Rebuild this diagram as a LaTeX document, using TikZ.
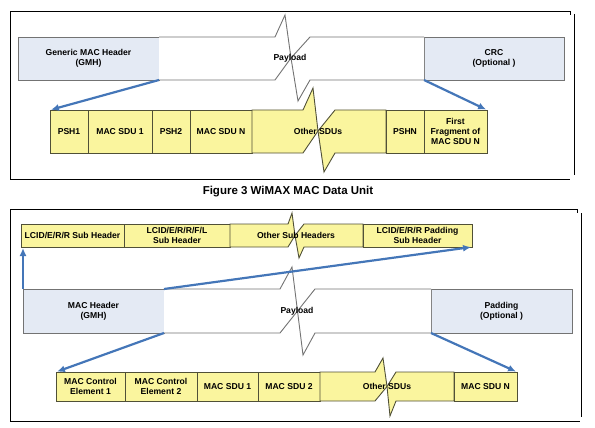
\documentclass[tikz,border=0pt]{standalone}
\usepackage{fontspec}
\setmainfont{Liberation Sans}
\usetikzlibrary{calc,arrows.meta}
\definecolor{yfill}{RGB}{250,245,158}
\definecolor{yline}{RGB}{80,80,55}
\definecolor{hfill}{RGB}{228,234,244}
\definecolor{hline}{RGB}{115,115,115}
\definecolor{arrowblue}{RGB}{68,118,184}

\begin{document}
\begin{tikzpicture}[x=1pt,y=-1pt,
	hdr/.style={draw=hline,fill=hfill,line width=0.9pt,minimum height=43,inner sep=0,outer sep=0,align=center,font=\fontsize{8.6}{10}\selectfont\bfseries},
	cell/.style={draw=yline,fill=yfill,line width=0.9pt,inner sep=0,outer sep=0,align=center,font=\fontsize{8.6}{10}\selectfont\bfseries,anchor=west},
	band/.style={draw=hline,fill=white,line width=0.9pt,line join=miter},
	zig/.style={draw=yline,fill=yfill,line width=0.9pt,line join=miter},
	frame/.style={line width=0.9pt},
	lbl/.style={inner sep=0,font=\fontsize{8.6}{10}\selectfont\bfseries},
	link/.style={->,draw=arrowblue,line width=2.2pt,shorten >=1pt}]
	\tikzset{>={Latex[length=8pt,width=7pt]}}
	\useasboundingbox (0,0) rectangle (595,428);

	% upper figure
	\draw [frame] (10,179) -- (10,11) -- (570,11) -- ++(0,4);
	\draw [frame] (574,14) -- (574,175);
	\draw [frame] (10,179) -- (570,179);

	\node [hdr, minimum width=141] (gmh) at (88.5,58.5) {Generic MAC Header\\(GMH)};
	\node [hdr, minimum width=140] (crc) at (494,58.5) {CRC\\(Optional )};
	\draw [band] (gmh.north east) -- (275,37) -- (285,15) -- (291,58) -- (275,80) -- (gmh.south east);
	\draw [band] (crc.north west) -- (310,37) -- (291,58) -- (298,101) -- (310,80) -- (crc.south west);
	\node [lbl] (pay1) at (290,58) {Payload};

	\node [cell, minimum width=38, minimum height=43] (psh1) at (50,131.5) {PSH1};
	\node [cell, minimum width=64, minimum height=43] (sdu1) at (psh1.east) {MAC SDU 1};
	\node [cell, minimum width=38, minimum height=43] (psh2) at (sdu1.east) {PSH2};
	\node [cell, minimum width=62, minimum height=43] (sdun) at (psh2.east) {MAC SDU N};
	\draw [zig] (sdun.north east) -- (303,110) -- (313,88) -- (318,131) -- (303,153) -- (sdun.south east) -- cycle;
	\draw [zig] (386,110) -- (335,110) -- (318,131) -- (324,172) -- (335,153) -- (386,153) -- cycle;
	\node [lbl] (other1) at (318,131) {Other SDUs};
	\node [cell, minimum width=38, minimum height=43] (pshn) at (386,131.5) {PSHN};
	\node [cell, minimum width=63, minimum height=43] (first) at (pshn.east) {First\\Fragment of\\MAC SDU N};

	\draw [link] (gmh.south east) -- (psh1.north west);
	\draw [link] (crc.south west) -- (first.north east);

	\node [font=\fontsize{11.5}{13}\selectfont\bfseries] (cap) at (288,192) {Figure 3 WiMAX MAC Data Unit};

	% lower figure
	\draw [frame] (10,421) -- (10,209) -- (577,209) -- ++(0,4);
	\draw [frame] (581,213) -- (581,417);
	\draw [frame] (10,421) -- (580,421);

	\node [cell, minimum width=103, minimum height=23] (lcid1) at (21,235.5) {LCID/E/R/R Sub Header};
	\node [cell, minimum width=106, minimum height=23] (lcid2) at (lcid1.east) {LCID/E/R/R/F/L\\Sub Header};
	\draw [zig] (lcid2.north east) -- (288,224) -- (292,213) -- (295,235.5) -- (288,247) -- (lcid2.south east) -- cycle;
	\draw [zig] (363,224) -- (304,224) -- (295,235.5) -- (299,258) -- (304,247) -- (363,247) -- cycle;
	\node [lbl] (othersub) at (296,235.5) {Other Sub Headers};
	\node [cell, minimum width=109, minimum height=23] (padsub) at (363,235.5) {LCID/E/R/R Padding\\Sub Header};

	\node [hdr, minimum width=141, minimum height=44] (mach) at (93.5,311) {MAC Header\\(GMH)};
	\node [hdr, minimum width=141, minimum height=44] (padding) at (501.5,311) {Padding\\(Optional )};
	\draw [band] (mach.north east) -- (280,289) -- (292,267) -- (297.5,311) -- (280,333) -- (mach.south east);
	\draw [band] (padding.north west) -- (315,289) -- (297.5,311) -- (303,355) -- (315,333) -- (padding.south west);
	\node [lbl] (pay2) at (297,311) {Payload};

	\node [cell, minimum width=69, minimum height=29] (mce1) at (56,386.5) {MAC Control\\Element 1};
	\node [cell, minimum width=72, minimum height=29] (mce2) at (mce1.east) {MAC Control\\Element 2};
	\node [cell, minimum width=61, minimum height=29] (sdua) at (mce2.east) {MAC SDU 1};
	\node [cell, minimum width=62, minimum height=29] (sdub) at (sdua.east) {MAC SDU 2};
	\draw [zig] (sdub.north east) -- (375,372) -- (383,358) -- (387,386.5) -- (375,401) -- (sdub.south east) -- cycle;
	\draw [zig] (454,372) -- (396,372) -- (387,386.5) -- (390,416) -- (396,401) -- (454,401) -- cycle;
	\node [lbl] (other2) at (387,386.5) {Other SDUs};
	\node [cell, minimum width=63, minimum height=29] (sduz) at (454,386.5) {MAC SDU N};

	\draw [link] (mach.north west) -- (mach.north west |- lcid1.south);
	\draw [link] (mach.north east) -- (padsub.south east);
	\draw [link] (mach.south east) -- (mce1.north west);
	\draw [link] (padding.south west) -- (sduz.north east);
\end{tikzpicture}
\end{document}
